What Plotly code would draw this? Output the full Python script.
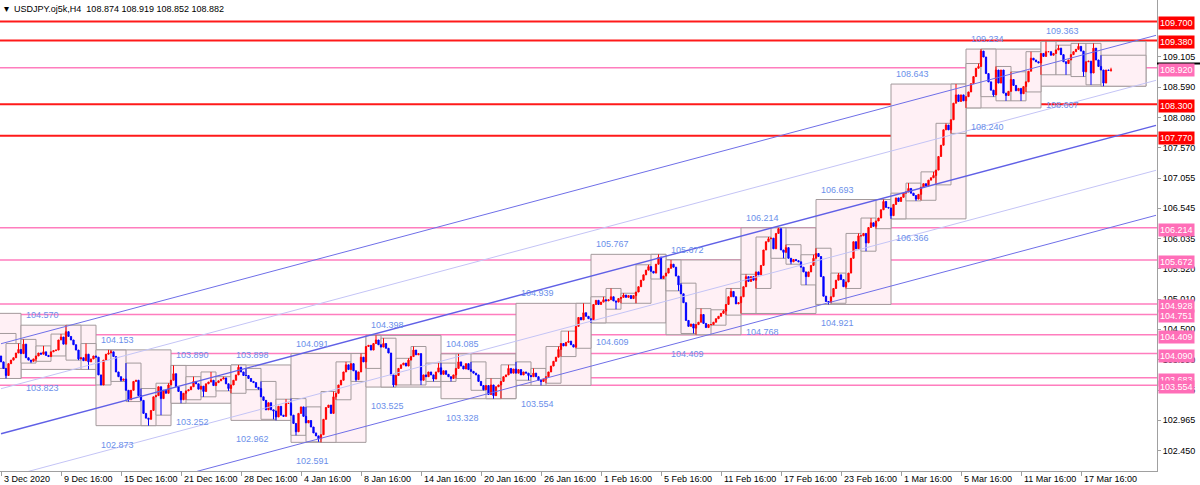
import plotly.graph_objects as go

# ---------------- data ----------------
header_text = "USDJPY.oj5k,H4  108.874 108.919 108.852 108.882"

day_names = ["3 Dec", "4 Dec",
             "7 Dec", "8 Dec", "9 Dec", "10 Dec", "11 Dec",
             "14 Dec", "15 Dec", "16 Dec", "17 Dec", "18 Dec",
             "21 Dec", "22 Dec", "23 Dec", "24 Dec",
             "28 Dec", "29 Dec", "30 Dec", "31 Dec",
             "4 Jan", "5 Jan", "6 Jan", "7 Jan", "8 Jan",
             "11 Jan", "12 Jan", "13 Jan", "14 Jan", "15 Jan",
             "18 Jan", "19 Jan", "20 Jan", "21 Jan", "22 Jan",
             "25 Jan", "26 Jan", "27 Jan", "28 Jan", "29 Jan",
             "1 Feb", "2 Feb", "3 Feb", "4 Feb", "5 Feb",
             "8 Feb", "9 Feb", "10 Feb", "11 Feb", "12 Feb",
             "15 Feb", "16 Feb", "17 Feb", "18 Feb", "19 Feb",
             "22 Feb", "23 Feb", "24 Feb", "25 Feb", "26 Feb",
             "1 Mar", "2 Mar", "3 Mar", "4 Mar", "5 Mar",
             "8 Mar", "9 Mar", "10 Mar", "11 Mar", "12 Mar",
             "15 Mar", "16 Mar", "17 Mar", "18 Mar", "19 Mar"]
day_bars = [2] + [6] * 73 + [5]

first_open = 104.05
closes = [
    103.95, 103.84,
    103.72, 103.92, 103.98, 104.02, 104.10, 104.16,
    104.09, 104.25, 104.02, 103.98, 103.96, 104.00,
    104.05, 104.10, 104.08, 104.12, 104.06, 104.04,
    104.12, 104.14, 104.15, 104.32, 104.37, 104.25,
    104.46, 104.38, 104.32, 104.24, 104.15, 104.00,
    104.02, 103.97, 104.08, 103.95, 104.00, 104.05,
    104.03, 103.73, 103.56, 103.98, 104.08, 104.10,
    104.12, 104.04, 103.78, 103.70, 103.64, 103.66,
    103.47, 103.31, 103.47, 103.62, 103.64, 103.38,
    103.30, 103.08, 103.00, 102.98, 103.13, 103.36,
    103.38, 103.53, 103.33, 103.47, 103.42, 103.56,
    103.64, 103.75, 103.53, 103.45, 103.31, 103.42,
    103.46, 103.48, 103.53, 103.62, 103.58, 103.49,
    103.54, 103.45, 103.58, 103.61, 103.64, 103.55,
    103.60, 103.63, 103.66, 103.68, 103.58, 103.50,
    103.56, 103.64, 103.73, 103.86, 103.78, 103.72,
    103.72, 103.67, 103.62, 103.60, 103.52, 103.50,
    103.36, 103.30, 103.14, 103.26, 103.14, 103.12,
    103.02, 103.20, 103.05, 103.03, 103.25, 103.25,
    103.05, 102.91, 102.77, 103.08, 103.19, 103.03,
    102.92, 102.96, 102.85, 102.75, 102.70, 102.65,
    102.72, 102.98, 103.18, 103.22, 103.08, 103.36,
    103.42, 103.56, 103.64, 103.78, 103.90, 103.82,
    103.92, 103.80, 103.65, 103.78, 104.03, 103.95,
    104.21, 104.23, 104.15, 104.26, 104.32, 104.24,
    104.20, 104.26, 104.18, 104.10, 103.73, 103.56,
    103.72, 103.84, 103.90, 103.93, 103.88, 103.98,
    104.04, 104.15, 104.07, 104.09, 103.64, 103.73,
    103.70, 103.78, 103.73, 103.66, 103.78, 103.85,
    103.74, 103.80, 103.74, 103.70, 103.67, 103.73,
    103.84, 103.95, 103.88, 103.83, 103.92, 103.82,
    103.79, 103.76, 103.73, 103.62, 103.55, 103.48,
    103.55, 103.40, 103.56, 103.38, 103.53, 103.56,
    103.62, 103.70, 103.73, 103.84, 103.76, 103.83,
    103.76, 103.82, 103.73, 103.78, 103.76, 103.72,
    103.70, 103.76, 103.70, 103.64, 103.62, 103.66,
    103.70, 103.78, 103.88, 103.96, 104.03, 104.16,
    104.26, 104.22, 104.28, 104.30, 104.24, 104.20,
    104.55, 104.70, 104.66, 104.78, 104.72, 104.68,
    104.66, 104.92, 104.99, 104.92, 104.96, 105.00,
    104.98, 105.00, 105.05, 104.98, 104.96, 105.02,
    105.04, 105.08, 105.04, 105.07, 105.02, 105.07,
    105.13, 105.22, 105.33, 105.42, 105.50, 105.56,
    105.48, 105.45, 105.60, 105.72, 105.36, 105.40,
    105.45, 105.53, 105.60, 105.55, 105.40, 105.25,
    105.10, 104.95, 104.65, 104.55, 104.59, 104.52,
    104.58, 104.62, 104.75, 104.60, 104.53, 104.58,
    104.58, 104.62, 104.68, 104.72, 104.77, 104.81,
    104.92, 105.05, 105.14, 105.05, 104.93, 104.95,
    105.05, 105.22, 105.39, 105.31, 105.39, 105.33,
    105.47, 105.42, 105.58, 105.84, 105.98, 106.03,
    106.04, 105.86, 106.12, 106.20, 105.84, 105.80,
    105.88, 105.70, 105.64, 105.68, 105.66, 105.64,
    105.55, 105.47, 105.39, 105.47, 105.58, 105.70,
    105.78, 105.73, 105.39, 105.06, 104.97, 104.96,
    105.05, 105.19, 105.33, 105.42, 105.34, 105.22,
    105.30, 105.45, 105.70, 105.98, 105.86, 106.08,
    106.08, 106.12, 105.96, 106.22, 106.30, 106.24,
    106.33, 106.38, 106.52, 106.66, 106.56, 106.55,
    106.42, 106.61, 106.72, 106.66, 106.73, 106.80,
    106.82, 106.88, 106.80, 106.76, 106.70, 106.78,
    106.90, 106.96, 106.92, 107.02, 107.06, 107.10,
    107.19, 107.42, 107.61, 107.87, 107.95, 107.87,
    108.04, 108.32, 108.46, 108.35, 108.46, 108.36,
    108.43, 108.51, 108.65, 108.77, 108.91, 108.94,
    109.20, 109.10, 108.82, 108.68, 108.54, 108.46,
    108.88, 108.66, 108.88, 108.49, 108.45, 108.52,
    108.72, 108.62, 108.53, 108.57, 108.48, 108.60,
    108.68, 108.86, 109.08, 109.05, 109.02, 109.00,
    109.16, 109.11, 109.19, 109.19, 109.13, 109.16,
    109.22, 109.25, 109.14, 109.02, 108.99, 109.05,
    109.14, 109.19, 109.23, 109.28, 109.20, 108.85,
    109.02, 109.03, 108.83, 109.25, 109.05, 108.94,
    108.88, 108.66, 108.88, 108.874, 108.882,
]
last_bar_high = 108.919
last_bar_low = 108.852

day_high = [104.43, 104.26,
            104.33, 104.22, 104.42, 104.570, 104.26,
            104.153, 104.15, 103.93, 103.50, 103.59,
            103.890, 103.70, 103.78, 103.70,
            103.898, 103.84, 103.62, 103.32,
            103.33, 103.19, 103.45, 103.95, 104.091,
            104.398, 104.35, 104.01, 104.21, 103.93,
            103.93, 104.085, 103.95, 103.67, 103.90,
            103.95, 103.84, 104.21, 104.47, 104.939,
            105.05, 105.19, 105.11, 105.59, 105.767,
            105.672, 105.28, 104.85, 104.83, 105.19,
            105.43, 106.06, 106.214, 105.93, 105.76,
            105.87, 105.45, 106.12, 106.38, 106.693,
            106.80, 106.97, 107.16, 107.98, 108.643,
            108.99, 109.234, 108.94, 108.85, 109.19,
            109.363, 109.30, 109.33, 109.33, 109.13]
day_low = [103.84, 103.67,
           103.93, 103.96, 104.05, 103.98, 103.823,
           103.56, 103.62, 103.28, 102.873, 103.05,
           103.252, 103.31, 103.36, 103.46,
           103.42, 103.48, 102.98, 102.962,
           102.71, 102.60, 102.591, 103.31, 103.62,
           103.84, 103.525, 103.56, 103.56, 103.62,
           103.62, 103.67, 103.47, 103.328, 103.33,
           103.64, 103.554, 103.59, 104.04, 104.18,
           104.609, 104.84, 104.94, 104.94, 105.35,
           105.15, 104.43, 104.409, 104.57, 104.74,
           104.768, 105.19, 105.70, 105.60, 105.25,
           104.921, 104.94, 105.19, 105.82, 106.20,
           106.366, 106.67, 106.68, 106.94, 107.81,
           108.240, 108.43, 108.36, 108.36, 108.51,
           108.80, 108.80, 108.77, 108.63, 108.607]

week_days = [2, 5, 5, 4, 4, 5, 5, 5, 5, 5, 5, 5, 5, 5, 5, 5]
week_high = [104.77, 104.570, 104.153, 103.890, 103.898, 104.091, 104.398, 104.085,
             104.939, 105.767, 105.672, 106.214, 106.693, 108.643, 109.234, 109.363]
week_low = [103.67, 103.823, 102.873, 103.252, 102.962, 102.591, 103.525, 103.328,
            103.554, 104.609, 104.409, 104.768, 104.921, 106.366, 108.240, 108.607]

red_levels = [109.700, 109.380, 108.300, 107.770]
pink_levels = [108.920, 106.214, 105.672, 104.928, 104.751, 104.409, 104.090, 103.683, 103.554]

price_ticks = [109.105, 108.590, 108.080, 107.570, 107.055, 106.545, 106.035,
               105.520, 105.010, 104.500, 103.990, 103.475, 102.965, 102.450]

time_labels = ["3 Dec 2020", "9 Dec 16:00", "15 Dec 16:00", "21 Dec 16:00", "28 Dec 16:00",
               "4 Jan 16:00", "8 Jan 16:00", "14 Jan 16:00", "20 Jan 16:00", "26 Jan 16:00",
               "1 Feb 16:00", "5 Feb 16:00", "11 Feb 16:00", "17 Feb 16:00", "23 Feb 16:00",
               "1 Mar 16:00", "5 Mar 16:00", "11 Mar 16:00", "17 Mar 16:00"]
bars_per_time_label = 24

# channel lines: price at first bar and at right-edge bar
chan_x = [0, 462]
chan_start = [104.257, 103.497, 102.737, 101.977, 101.217]
chan_end = [109.466, 108.706, 107.946, 107.186, 106.426]

ask_price = 108.99
visible_bars = [-0.4, 462.4]
price_range = [102.107, 110.063]
box_extend_to = 458

# ---------------- derived candles ----------------
n = len(closes)
opens = [first_open] + closes[:-1]
highs = [max(o, c) for o, c in zip(opens, closes)]
lows = [min(o, c) for o, c in zip(opens, closes)]
day_start = []
s = 0
for d, nb in enumerate(day_bars):
    day_start.append(s)
    idx = list(range(s, s + nb))
    if nb == 6 or d == len(day_bars) - 1:
        ih = max(idx, key=lambda i: highs[i])
        highs[ih] = max(highs[ih], day_high[d])
        il = min(idx, key=lambda i: lows[i])
        lows[il] = min(lows[il], day_low[d])
    s += nb
highs[-1] = last_bar_high
lows[-1] = last_bar_low
xs = list(range(n))

FONT = "Liberation Sans, Arial, sans-serif"
BOX_FILL = "#FFF0F5"
BOX_LINE = "#A39A9C"
LABEL_BLUE = "#6B8FEA"

fig = go.Figure()

chan_colors = ["#6F6FE8", "#C4C4F6", "#6060E6", "#C4C4F6", "#6F6FE8"]
chan_widths = [1, 1, 1.4, 1, 1]
for p0, p1, col, w in zip(chan_start, chan_end, chan_colors, chan_widths):
    fig.add_trace(go.Scatter(x=chan_x, y=[p0, p1], mode="lines",
                             line=dict(color=col, width=w), hoverinfo="skip",
                             showlegend=False))

fig.add_trace(go.Candlestick(
    x=xs, open=opens, high=highs, low=lows, close=closes,
    increasing=dict(line=dict(color="#FF0000", width=1), fillcolor="#FF0000"),
    decreasing=dict(line=dict(color="#0000FF", width=1), fillcolor="#0000FF"),
    whiskerwidth=0, showlegend=False, hoverinfo="skip"))

shapes = []
ws = 0
week_left = []
for w, nd in enumerate(week_days):
    left = day_start[ws] if w > 0 else visible_bars[0] - 1
    right = day_start[ws + nd] if w + 1 < len(week_days) else box_extend_to
    week_left.append(left)
    shapes.append(dict(type="rect", xref="x", yref="y", x0=left, x1=right,
                       y0=week_low[w], y1=week_high[w], fillcolor=BOX_FILL,
                       line=dict(color=BOX_LINE, width=1), layer="below"))
    ws += nd
for d, nb in enumerate(day_bars):
    st = day_start[d]
    left = st + nb - 6 if d == 0 else st
    right = box_extend_to if d == len(day_bars) - 1 else st + 6
    shapes.append(dict(type="rect", xref="x", yref="y", x0=left, x1=right,
                       y0=day_low[d], y1=day_high[d], fillcolor=BOX_FILL,
                       line=dict(color=BOX_LINE, width=1), layer="below"))
for lv in pink_levels:
    shapes.append(dict(type="line", xref="paper", yref="y", x0=0, x1=1, y0=lv, y1=lv,
                       line=dict(color="#FF7DBE", width=1.5), layer="below"))
for lv in red_levels:
    shapes.append(dict(type="line", xref="paper", yref="y", x0=0, x1=1, y0=lv, y1=lv,
                       line=dict(color="#FF1A1A", width=2), layer="below"))
shapes.append(dict(type="line", xref="paper", yref="y", x0=1, x1=1.04, y0=ask_price,
                   y1=ask_price, line=dict(color="#000000", width=2)))

ann = []
ann.append(dict(xref="paper", yref="paper", x=0, y=1, xanchor="left", yanchor="top",
                xshift=2, yshift=-1, showarrow=False, text="▾",
                font=dict(family=FONT, size=10, color="#000")))
ann.append(dict(xref="paper", yref="paper", x=0, y=1, xanchor="left", yanchor="top",
                xshift=12, yshift=-2, showarrow=False, text=header_text,
                font=dict(family=FONT, size=9, color="#000")))
for w in range(len(week_days)):
    if week_left[w] < 0:
        continue
    ann.append(dict(xref="x", yref="y", x=week_left[w], y=week_high[w], xanchor="left",
                    yanchor="middle", xshift=3, yshift=10, showarrow=False,
                    text=f"{week_high[w]:.3f}", font=dict(family=FONT, size=9, color=LABEL_BLUE)))
    ann.append(dict(xref="x", yref="y", x=week_left[w], y=week_low[w], xanchor="left",
                    yanchor="middle", xshift=3, yshift=-19, showarrow=False,
                    text=f"{week_low[w]:.3f}", font=dict(family=FONT, size=9, color=LABEL_BLUE)))
for lv in red_levels:
    ann.append(dict(xref="paper", yref="y", x=1, y=lv, xanchor="left", yanchor="middle",
                    xshift=1, yshift=-2, showarrow=False, text=f"{lv:.3f}", bgcolor="#FF0000",
                    borderpad=1, font=dict(family=FONT, size=9, color="#FFFFFF")))
for lv in pink_levels:
    ann.append(dict(xref="paper", yref="y", x=1, y=lv, xanchor="left", yanchor="middle",
                    xshift=1, yshift=-2, showarrow=False, text=f"{lv:.3f}", bgcolor="#FF6EB8",
                    borderpad=1, font=dict(family=FONT, size=9, color="#FFFFFF")))
for k, t in enumerate(time_labels):
    ann.append(dict(xref="x", yref="paper", x=k * bars_per_time_label, y=0, xanchor="left",
                    yanchor="top", xshift=1, yshift=-1, showarrow=False, text=t,
                    font=dict(family=FONT, size=9, color="#000")))

fig.update_layout(
    width=1200, height=485,
    margin=dict(l=0, r=43, t=0, b=14),
    paper_bgcolor="#FFFFFF", plot_bgcolor="#FFFFFF",
    shapes=shapes, annotations=ann, showlegend=False,
    xaxis=dict(range=visible_bars, showgrid=False, zeroline=False, showline=True,
               linecolor="#A0A0A0", linewidth=1, ticks="outside", ticklen=4,
               tickcolor="#A0A0A0", tickvals=[k * bars_per_time_label for k in range(len(time_labels))],
               showticklabels=False, rangeslider=dict(visible=False), automargin=False,
               fixedrange=True),
    yaxis=dict(range=price_range, side="right", showgrid=False, zeroline=False,
               showline=True, mirror=True, linecolor="#A0A0A0", linewidth=1,
               ticks="outside", ticklen=3, tickcolor="#A0A0A0",
               tickvals=price_ticks, ticktext=[f"{p:.3f}" for p in price_ticks],
               tickfont=dict(family=FONT, size=9, color="#000"), automargin=False,
               fixedrange=True),
)

fig.write_html("out.html", config={"displayModeBar": False},
               post_script="document.body.style.margin='0px';document.body.style.overflow='hidden';")
